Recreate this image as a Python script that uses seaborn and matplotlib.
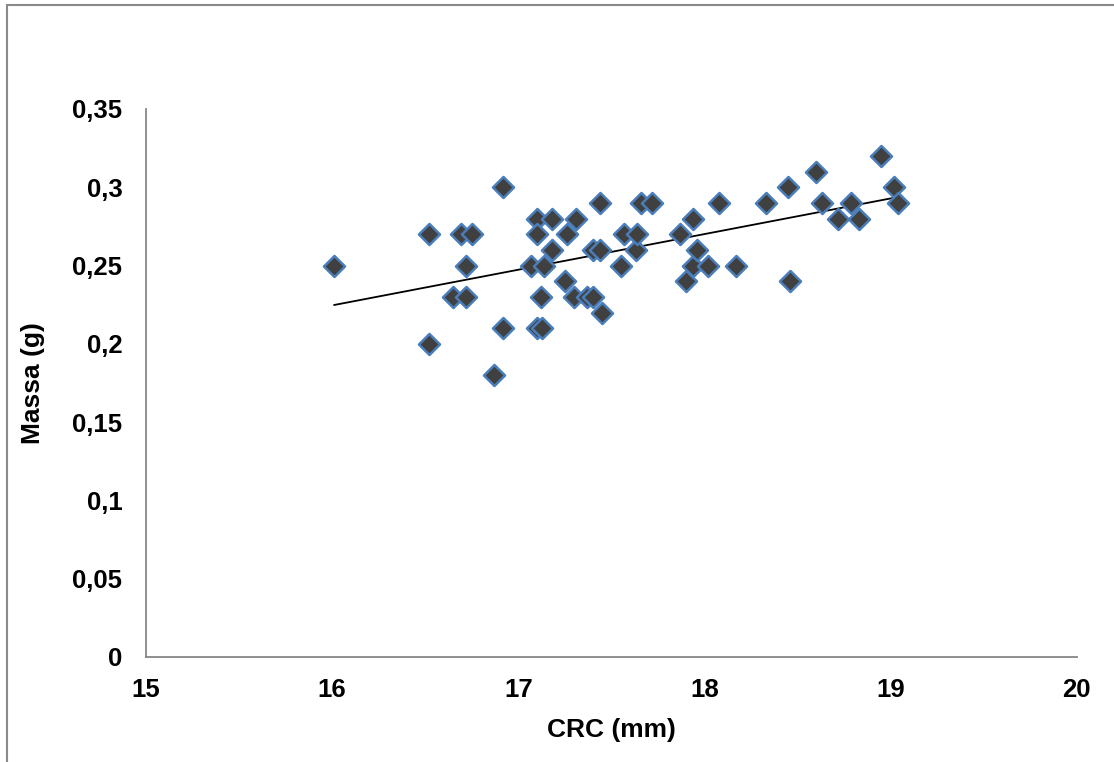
import matplotlib
matplotlib.use('Agg')
import matplotlib.pyplot as plt
import matplotlib.ticker as mticker
import numpy as np
import pandas as pd
import seaborn as sns

sns.set_theme(style='white')
plt.rcParams['font.family'] = ['Liberation Sans', 'DejaVu Sans']
plt.rcParams['text.color'] = 'black'
plt.rcParams['axes.labelcolor'] = 'black'
plt.rcParams['xtick.color'] = 'black'
plt.rcParams['ytick.color'] = 'black'

# CRC (mm) and body mass (g)
crc = [
    16.01, 16.52, 16.52, 16.65, 16.69, 16.72, 16.72, 16.75, 16.87, 16.92,
    16.92, 17.07, 17.10, 17.10, 17.10, 17.12, 17.13, 17.14, 17.18, 17.18,
    17.25, 17.26, 17.31, 17.30, 17.37, 17.40, 17.40, 17.44, 17.44, 17.45,
    17.55, 17.57, 17.63, 17.64, 17.66, 17.72, 17.87, 17.90, 17.94, 17.94,
    17.96, 18.02, 18.08, 18.17, 18.33, 18.45, 18.46, 18.60, 18.63, 18.72,
    18.79, 18.83, 18.95, 19.02, 19.04,
]
massa = [
    0.25, 0.27, 0.20, 0.23, 0.27, 0.25, 0.23, 0.27, 0.18, 0.30,
    0.21, 0.25, 0.28, 0.27, 0.21, 0.23, 0.21, 0.25, 0.28, 0.26,
    0.24, 0.27, 0.28, 0.23, 0.23, 0.23, 0.26, 0.29, 0.26, 0.22,
    0.25, 0.27, 0.26, 0.27, 0.29, 0.29, 0.27, 0.24, 0.28, 0.25,
    0.26, 0.25, 0.29, 0.25, 0.29, 0.30, 0.24, 0.31, 0.29, 0.28,
    0.29, 0.28, 0.32, 0.30, 0.29,
]
x_ticks = [15, 16, 17, 18, 19, 20]
y_ticks = [0, 0.05, 0.1, 0.15, 0.2, 0.25, 0.3, 0.35]

df = pd.DataFrame({'crc': crc, 'massa': massa})

fig = plt.figure(figsize=(11.14, 7.62), dpi=100)
ax = fig.add_axes([0.1311, 0.1378, 0.8354, 0.7192])

sns.regplot(data=df, x='crc', y='massa', scatter=False, ci=None, ax=ax,
            line_kws={'color': 'black', 'linewidth': 1.3})
sns.scatterplot(data=df, x='crc', y='massa', marker='D', s=115, color='#404040',
                edgecolor='#4A7EBB', linewidth=1.8, ax=ax, zorder=3)

ax.set_xlim(15, 20)
ax.set_ylim(0, 0.35)
ax.set_xticks(x_ticks)
ax.set_yticks(y_ticks)
ax.yaxis.set_major_formatter(mticker.FuncFormatter(lambda v, p: f'{v:g}'.replace('.', ',')))
ax.tick_params(length=0, labelsize=18.5)
ax.tick_params(axis='y', pad=17)
ax.tick_params(axis='x', pad=15)
for lab in ax.get_xticklabels() + ax.get_yticklabels():
    lab.set_fontweight('bold')

for side in ['top', 'right']:
    ax.spines[side].set_visible(False)
for side in ['left', 'bottom']:
    ax.spines[side].set_color('#868686')
    ax.spines[side].set_linewidth(1.3)

ax.set_xlabel('CRC (mm)', fontsize=19, fontweight='bold', labelpad=12)
ax.set_ylabel('Massa (g)', fontsize=19, fontweight='bold', labelpad=20)

# outer chart frame (only left and top edges are visible in the crop)
fig.add_artist(plt.Line2D([0.0063, 0.0063], [0, 0.9928], color='#8a8a8a', linewidth=1.5))
fig.add_artist(plt.Line2D([0.0063, 1.0], [0.9928, 0.9928], color='#8a8a8a', linewidth=1.5))

fig.savefig('out.png', dpi=100)
